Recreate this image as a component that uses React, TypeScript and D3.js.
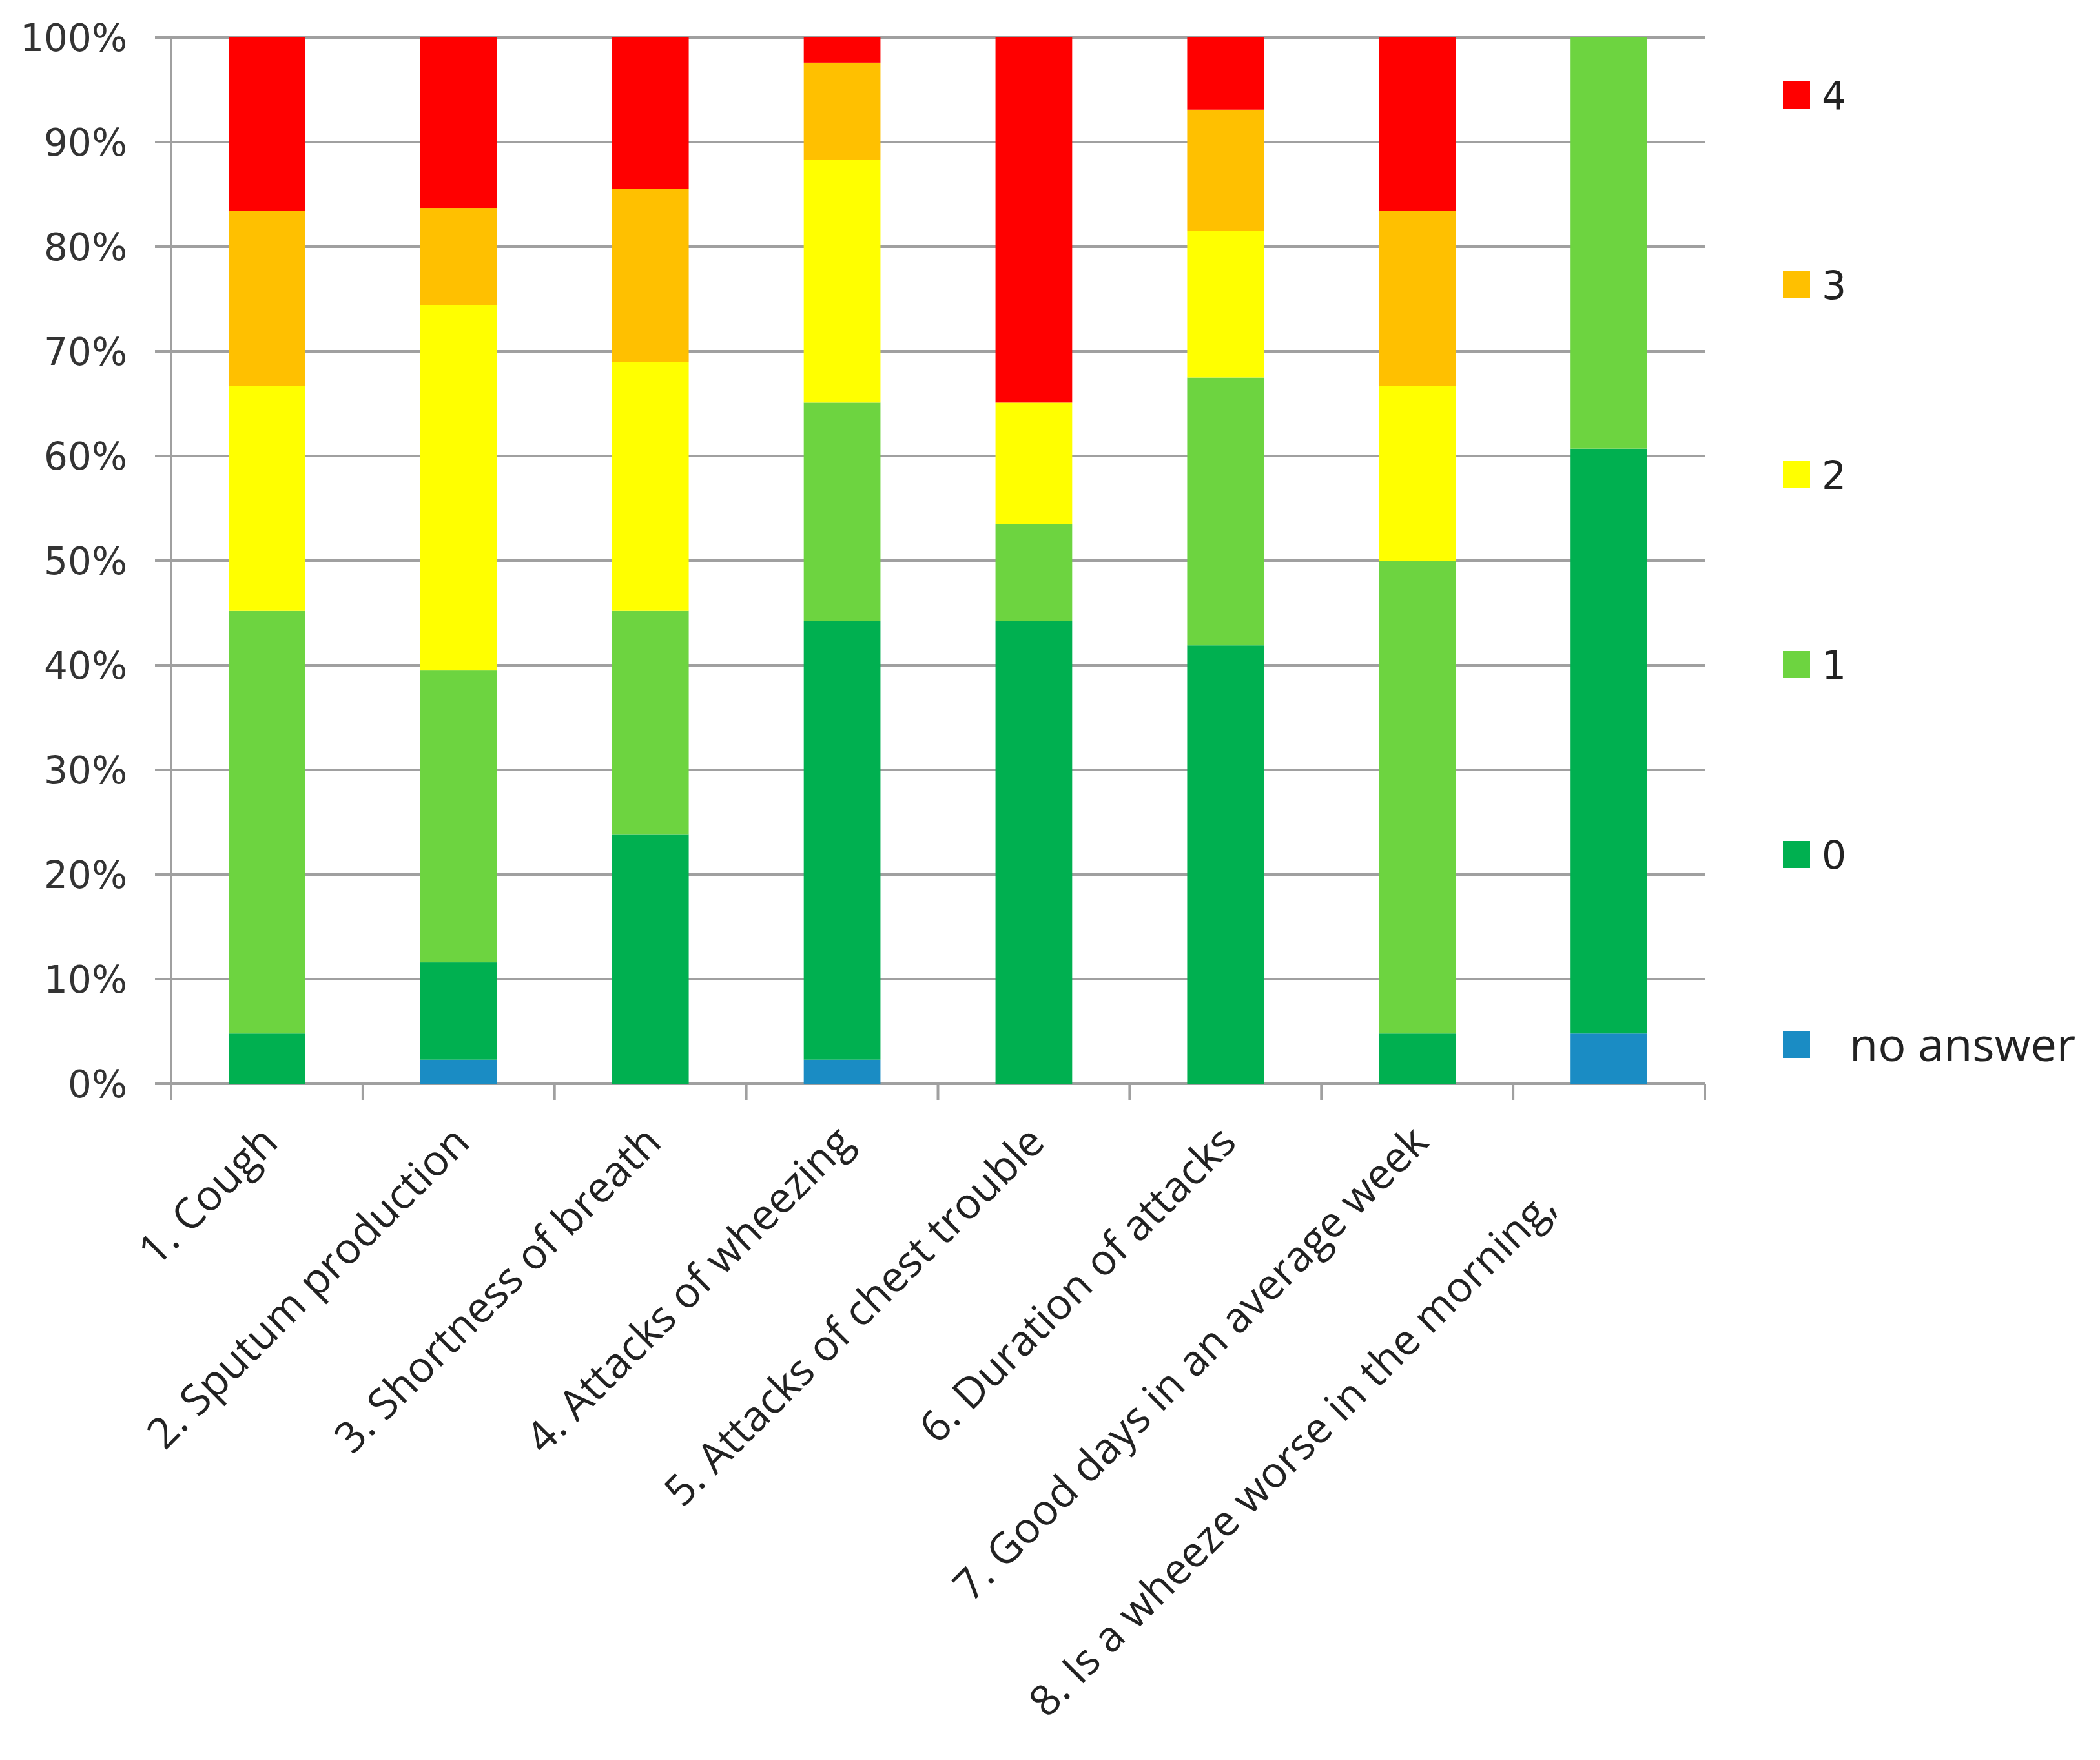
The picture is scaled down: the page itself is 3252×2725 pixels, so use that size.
import React, { useEffect, useRef } from 'react';
import * as d3 from 'd3';

// Questions on the x axis
const categories = [
  "1. Cough",
  "2. Sputum production",
  "3. Shortness of breath",
  "4. Attacks of wheezing",
  "5. Attacks of chest trouble",
  "6. Duration of attacks",
  "7. Good days in an average week",
  "8. Is a wheeze worse in the morning,",
];

// Share of answers (%) per score
const noAnswer = [0, 2.3, 0, 2.3, 0, 0, 0, 4.8];
const score0 = [4.8, 9.3, 23.8, 41.9, 44.2, 41.9, 4.8, 55.9];
const score1 = [40.4, 27.9, 21.4, 20.9, 9.3, 25.6, 45.2, 39.3];
const score2 = [21.5, 34.9, 23.8, 23.2, 11.6, 14.0, 16.7, 0];
const score3 = [16.7, 9.3, 16.5, 9.3, 0, 11.6, 16.7, 0];
const score4 = [16.6, 16.3, 14.5, 2.4, 34.9, 6.9, 16.6, 0];

const seriesKeys = ["no answer", "0", "1", "2", "3", "4"];
const seriesValues = [noAnswer, score0, score1, score2, score3, score4];
const seriesColors = ["#1a8cc4", "#00b050", "#6dd440", "#ffff00", "#ffc000", "#ff0000"];

const yTicks = [0, 0.1, 0.2, 0.3, 0.4, 0.5, 0.6, 0.7, 0.8, 0.9, 1];

const W = 3252;
const H = 2725;

const App: React.FC = () => {
  const svgRef = useRef<SVGSVGElement>(null);

  useEffect(() => {
    document.body.style.margin = "0";
    const svg = d3.select(svgRef.current);
    svg.selectAll("*").remove();

    const left = 265, right = 2640, top = 58, bottom = 1678;
    const tickLen = 25;
    const gridColor = "#a0a0a0";

    const rows = categories.map((c, i) => {
      const r: any = { category: c };
      seriesKeys.forEach((k, j) => { r[k] = seriesValues[j][i]; });
      return r;
    });

    const stacked = d3.stack<any>()
      .keys(seriesKeys)
      .offset(d3.stackOffsetExpand)(rows);

    const x = d3.scaleBand<string>()
      .domain(categories)
      .range([left, right])
      .paddingInner(0.6)
      .paddingOuter(0.3);

    const y = d3.scaleLinear().domain([0, 1]).range([bottom, top]);
    const color = d3.scaleOrdinal<string, string>().domain(seriesKeys).range(seriesColors);

    svg.append("rect").attr("width", W).attr("height", H).attr("fill", "white");

    // gridlines with left ticks
    svg.append("g")
      .selectAll("line")
      .data(yTicks)
      .enter()
      .append("line")
      .attr("x1", left - tickLen)
      .attr("x2", right)
      .attr("y1", d => y(d))
      .attr("y2", d => y(d))
      .attr("stroke", gridColor)
      .attr("stroke-width", 4);

    // y tick labels
    svg.append("g")
      .selectAll("text")
      .data(yTicks)
      .enter()
      .append("text")
      .attr("x", 197)
      .attr("y", d => y(d))
      .attr("dy", "0.36em")
      .attr("text-anchor", "end")
      .style("font-family", "'DejaVu Sans', sans-serif")
      .style("font-size", "58px")
      .style("fill", "#333")
      .text(d => d3.format(".0%")(d));

    // bars
    svg.append("g")
      .selectAll("g")
      .data(stacked)
      .enter()
      .append("g")
      .attr("fill", d => color(d.key))
      .selectAll("rect")
      .data(d => d)
      .enter()
      .append("rect")
      .attr("x", d => x(d.data.category) as number)
      .attr("width", x.bandwidth())
      .attr("y", d => y(d[1]))
      .attr("height", d => y(d[0]) - y(d[1]));

    // axes
    svg.append("line")
      .attr("x1", left).attr("x2", left)
      .attr("y1", top).attr("y2", bottom + tickLen)
      .attr("stroke", gridColor).attr("stroke-width", 4);

    const step = x.step();
    const boundaries = d3.range(categories.length + 1).map(i => left + i * step);
    svg.append("g")
      .selectAll("line")
      .data(boundaries)
      .enter()
      .append("line")
      .attr("x1", d => d).attr("x2", d => d)
      .attr("y1", bottom).attr("y2", bottom + tickLen)
      .attr("stroke", gridColor).attr("stroke-width", 4);

    // x labels, rotated
    svg.append("g")
      .selectAll("text")
      .data(categories)
      .enter()
      .append("text")
      .attr("transform", d => `translate(${(x(d) as number) + x.bandwidth() / 2 + 20},${bottom + 94}) rotate(-45)`)
      .attr("dx", (d, i) => (i === categories.length - 1 ? -140 : 0))
      .attr("text-anchor", "end")
      .style("font-family", "'Open Sans', sans-serif")
      .style("font-size", "66px")
      .style("fill", "#222")
      .text(d => d);

    // legend, top = score 4
    const legendKeys = seriesKeys.slice().reverse();
    const legend = svg.append("g")
      .selectAll("g")
      .data(legendKeys)
      .enter()
      .append("g")
      .attr("transform", (d, i) => `translate(2761,${147 + i * 294})`);

    legend.append("rect")
      .attr("x", 0)
      .attr("y", -21)
      .attr("width", 42)
      .attr("height", 42)
      .attr("fill", d => color(d));

    legend.append("text")
      .attr("x", d => (d === "no answer" ? 103 : 60))
      .attr("y", 0)
      .attr("dy", "0.36em")
      .style("font-family", d => (d === "no answer" ? "'Open Sans', sans-serif" : "'DejaVu Sans', sans-serif"))
      .style("font-size", d => (d === "no answer" ? "72px" : "60px"))
      .style("fill", "#222")
      .text(d => d);
  }, []);

  return <svg ref={svgRef} width={W} height={H} style={{ display: "block" }}></svg>;
};

export default App;
